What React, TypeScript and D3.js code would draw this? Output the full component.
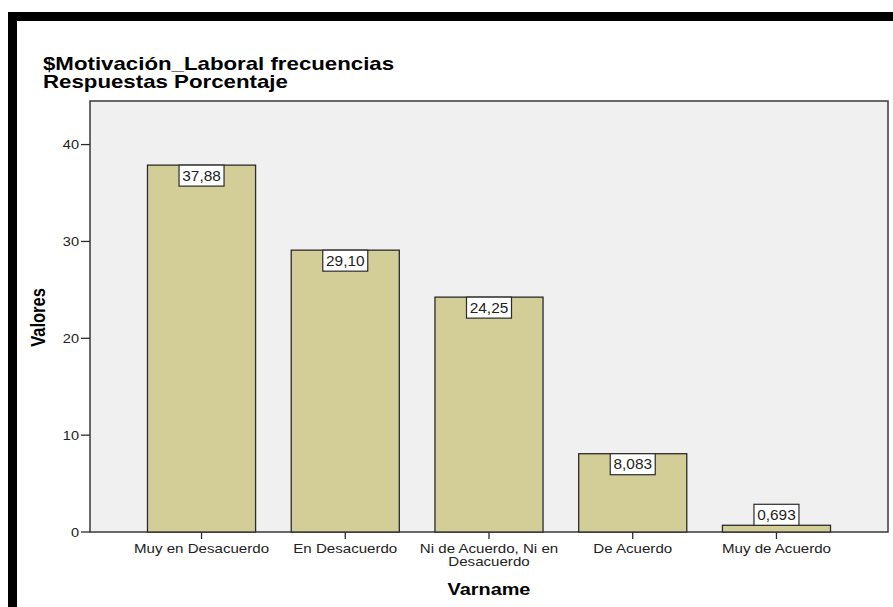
import React from "react";
import * as d3 from "d3";

const categories: string[][] = [
  ["Muy en Desacuerdo"],
  ["En Desacuerdo"],
  ["Ni de Acuerdo, Ni en", "Desacuerdo"],
  ["De Acuerdo"],
  ["Muy de Acuerdo"],
];
const values: number[] = [37.88, 29.1, 24.25, 8.083, 0.693];
const valueLabels: string[] = ["37,88", "29,10", "24,25", "8,083", "0,693"];
const yTicks: number[] = [0, 10, 20, 30, 40];
const titleLines: string[] = ["$Motivación_Laboral frecuencias", "Respuestas Porcentaje"];
const xTitle = "Varname";
const yTitle = "Valores";

const W = 893;
const H = 607;
const plot = { left: 90, right: 888, top: 101, bottom: 532 };
const FONT = "'Liberation Sans', Arial, sans-serif";

export default function App() {
  const keys = categories.map((_, i) => String(i));
  const x = d3
    .scaleBand<string>()
    .domain(keys)
    .range([plot.left, plot.right])
    .paddingInner(0.248)
    .paddingOuter(0.4);
  const y = d3.scaleLinear().domain([0, 44.5]).range([plot.bottom, plot.top]);
  const boxW = 45;
  const boxH = 21;

  return (
    <svg
      width={W}
      height={H}
      style={{ position: "absolute", left: 0, top: 0, display: "block", background: "#fff" }}
    >
      {/* black frame */}
      <rect x={8} y={12} width={W - 8} height={9} fill="#000" />
      <rect x={8} y={12} width={9} height={H - 12} fill="#000" />

      {/* title */}
      {titleLines.map((t, i) => (
        <text
          key={t}
          transform={`translate(43,${70 + i * 17.5}) scale(1.19,1)`}
          fontFamily={FONT}
          fontWeight="bold"
          fontSize={18.7}
          fill="#000"
        >
          {t}
        </text>
      ))}

      {/* plot background */}
      <rect
        x={plot.left}
        y={plot.top}
        width={plot.right - plot.left}
        height={plot.bottom - plot.top}
        fill="#f0f0f0"
        stroke="#3a3a3a"
        strokeWidth={1.5}
      />

      {/* bars */}
      {values.map((v, i) => {
        const bx = x(String(i))!;
        const by = y(v);
        const bh = y(0) - by;
        return (
          <rect
            key={i}
            x={bx}
            y={by}
            width={x.bandwidth()}
            height={bh}
            fill="#d3ce97"
            stroke="#2b2b2b"
            strokeWidth={1.3}
          />
        );
      })}

      {/* value labels */}
      {values.map((v, i) => {
        const cx = x(String(i))! + x.bandwidth() / 2;
        const by = y(v);
        const bh = y(0) - by;
        const top = bh > boxH + 4 ? by : by - boxH;
        return (
          <g key={"l" + i}>
            <rect
              x={cx - boxW / 2}
              y={top}
              width={boxW}
              height={boxH}
              fill="#fff"
              stroke="#2b2b2b"
              strokeWidth={1.2}
            />
            <text
              transform={`translate(${cx},${top + 15.5}) scale(1.1,1)`}
              textAnchor="middle"
              fontFamily={FONT}
              fontSize={14}
              fill="#222"
            >
              {valueLabels[i]}
            </text>
          </g>
        );
      })}

      {/* y axis ticks */}
      {yTicks.map((t) => (
        <g key={"y" + t}>
          <line x1={plot.left - 9} x2={plot.left} y1={y(t)} y2={y(t)} stroke="#2b2b2b" strokeWidth={1.3} />
          <text
            transform={`translate(${plot.left - 11},${y(t) + 4.8}) scale(1.12,1)`}
            textAnchor="end"
            fontFamily={FONT}
            fontSize={13}
            fill="#222"
          >
            {t}
          </text>
        </g>
      ))}

      {/* x axis ticks and labels */}
      {categories.map((lines, i) => {
        const cx = x(String(i))! + x.bandwidth() / 2;
        return (
          <g key={"x" + i}>
            <line x1={cx} x2={cx} y1={plot.bottom} y2={plot.bottom + 7} stroke="#2b2b2b" strokeWidth={1.3} />
            {lines.map((ln, j) => (
              <text
                key={j}
                transform={`translate(${cx},${553 + j * 12.5}) scale(1.18,1)`}
                textAnchor="middle"
                fontFamily={FONT}
                fontSize={12.8}
                fill="#222"
              >
                {ln}
              </text>
            ))}
          </g>
        );
      })}

      {/* axis titles */}
      <text
        transform={`translate(${(plot.left + plot.right) / 2},595) scale(1.22,1)`}
        textAnchor="middle"
        fontFamily={FONT}
        fontWeight="bold"
        fontSize={16.3}
        fill="#000"
      >
        {xTitle}
      </text>
      <text
        transform={`translate(45,${(plot.top + plot.bottom) / 2 + 1}) scale(1.2,1) rotate(-90)`}
        textAnchor="middle"
        fontFamily={FONT}
        fontWeight="bold"
        fontSize={16.5}
        fill="#000"
      >
        {yTitle}
      </text>
    </svg>
  );
}
